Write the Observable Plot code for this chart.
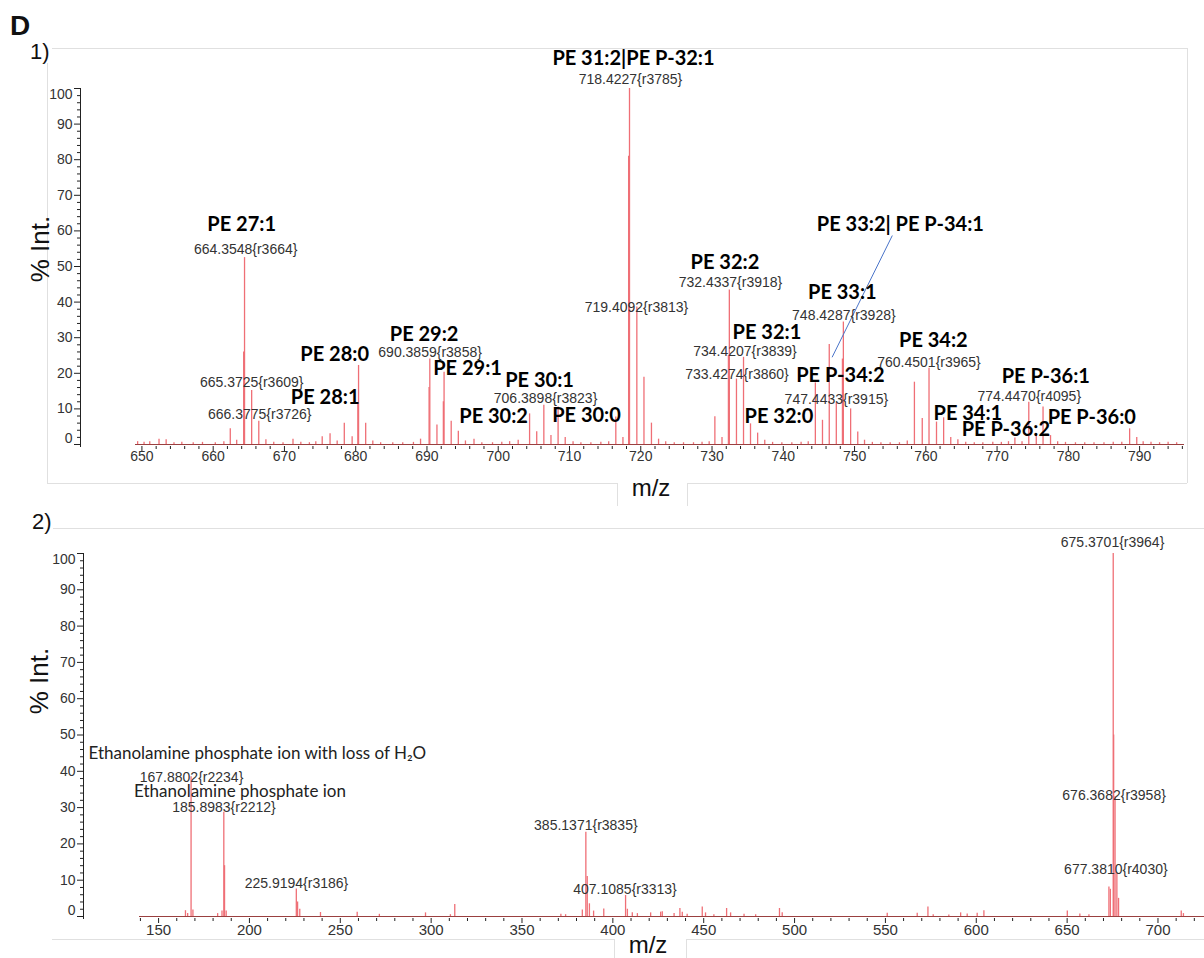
<!DOCTYPE html>
<html><head><meta charset="utf-8">
<script src="https://cdn.jsdelivr.net/npm/d3@7"></script>
<script src="https://cdn.jsdelivr.net/npm/@observablehq/plot@0.6"></script>
<style>
body{margin:0;background:#fff;}
#page{position:relative;width:1204px;height:958px;overflow:hidden;background:#fff;}
#p1,#p2{position:absolute;left:0;}
#p1{top:0;} #p2{top:528px;}
#overlay{position:absolute;left:0;top:0;pointer-events:none;}
svg{overflow:visible;}
</style></head><body>
<div id="page">
  <div id="p1"></div>
  <div id="p2"></div>
  <svg id="overlay" width="1204" height="958" font-family="Arial, 'Liberation Sans', sans-serif">
    <g stroke="#e0e0e0" stroke-width="1" fill="none">
      <line x1="52" y1="48.5" x2="1187" y2="48.5"/>
      <line x1="1187.5" y1="48" x2="1187.5" y2="483"/>
      <line x1="47.5" y1="63" x2="47.5" y2="483"/>
      <line x1="47" y1="483.5" x2="617" y2="483.5"/>
      <line x1="687" y1="483.5" x2="1187" y2="483.5"/>
      <line x1="617.5" y1="483" x2="617.5" y2="506"/>
      <line x1="687.5" y1="483" x2="687.5" y2="506"/>
      <line x1="53" y1="528.5" x2="1204" y2="528.5"/>
      <line x1="52" y1="939.5" x2="614" y2="939.5"/>
      <line x1="686" y1="939.5" x2="1204" y2="939.5"/>
      <line x1="614.5" y1="939" x2="614.5" y2="958"/>
      <line x1="686.5" y1="939" x2="686.5" y2="958"/>
    </g>
    <text x="10" y="35" font-size="28" font-weight="bold" fill="#111">D</text>
    <text x="30" y="59" font-size="22" fill="#111">1)</text>
    <text x="32" y="529" font-size="22" fill="#111">2)</text>
    <text x="651" y="496" font-size="24" text-anchor="middle" fill="#111">m/z</text>
    <text x="648" y="953" font-size="24" text-anchor="middle" fill="#111">m/z</text>
    <text transform="translate(49,249) rotate(-90)" font-size="26" text-anchor="middle" fill="#111">% Int.</text>
    <text transform="translate(48,681) rotate(-90)" font-size="26" text-anchor="middle" fill="#111">% Int.</text>
  </svg>
</div>
<script>
// ---------- Panel 1 spectrum (m/z, % intensity) ----------
const topMz = [649.4, 650.3, 651.1, 652.4, 653.4, 654.5, 655.6, 657.2, 658.5, 660.3, 661.5, 662.4, 663.3, 664.28, 664.4, 665.4, 666.4, 667.4, 668.5, 669.8, 671.2, 672.3, 673.5, 674.4, 675.3, 676.4, 677.4, 678.4, 679.5, 680.3, 680.4, 681.4, 682.4, 683.5, 685.2, 686.6, 688.1, 689.1, 690.3, 690.4, 691.4, 692.3, 692.4, 693.4, 694.4, 695.4, 696.6, 697.7, 699.2, 700.5, 701.6, 702.8, 704.4, 705.4, 706.4, 707.4, 708.4, 709.4, 710.5, 711.6, 713.0, 714.4, 715.5, 716.5, 717.5, 718.3, 718.42, 719.45, 720.45, 721.5, 722.5, 723.5, 724.7, 726.0, 727.4, 728.6, 729.6, 730.4, 731.4, 732.3, 732.43, 733.43, 734.42, 735.4, 736.4, 737.4, 738.5, 739.8, 741.2, 742.5, 743.5, 744.5, 745.5, 746.45, 747.44, 748.3, 748.43, 749.45, 750.45, 751.4, 752.5, 753.7, 755.0, 756.3, 757.4, 758.4, 759.5, 760.45, 761.5, 762.5, 763.5, 764.5, 765.6, 766.8, 768.0, 769.4, 770.6, 771.6, 772.5, 773.5, 774.45, 775.5, 776.45, 777.5, 778.5, 779.6, 781.0, 782.3, 783.6, 785.0, 786.3, 787.5, 788.6, 789.6, 790.5, 791.6, 792.8, 794.0, 795.2];
const topInt = [0.8, 0.6, 0.8, 1.5, 1.3, 0.5, 0.6, 0.5, 0.6, 0.5, 0.8, 4.4, 1.2, 26, 52.5, 15.2, 6.5, 1.3, 0.6, 0.5, 1.5, 0.6, 0.5, 0.8, 2.2, 3, 1, 6, 2.2, 11.5, 22.2, 6, 1, 0.5, 0.5, 0.5, 0.6, 1.5, 16, 24, 5.5, 12, 20.3, 6.5, 3.7, 1, 1.5, 0.5, 0.5, 0.6, 0.8, 1.2, 8.6, 3.6, 11, 2.5, 10.5, 2, 0.8, 0.5, 0.5, 0.6, 0.8, 7.7, 2, 81, 100, 38.6, 18.9, 6, 1.5, 0.8, 0.5, 0.5, 0.5, 0.6, 0.8, 7.8, 2, 25, 43.4, 18.4, 24.5, 5.8, 3.2, 1.2, 0.6, 0.5, 0.5, 0.6, 0.8, 17.3, 6.8, 28.1, 11.7, 24, 34.4, 10, 3.5, 1.2, 0.6, 0.5, 0.5, 0.5, 1, 17.5, 7.3, 21.4, 6.3, 7.5, 2, 1.3, 0.6, 0.5, 0.5, 0.6, 0.6, 0.8, 1.8, 0.8, 11.9, 3, 10.5, 2.5, 0.8, 0.6, 0.5, 0.5, 0.5, 0.5, 0.6, 0.6, 4.4, 2, 0.8, 0.6, 0.5, 0.6, 0.5];

// lipid names (bold) and where they sit (m/z, % Int.)
const topNames = ["PE 31:2|PE P-32:1", "PE 27:1", "PE 28:0", "PE 29:2", "PE 29:1", "PE 28:1", "PE 30:2", "PE 30:1", "PE 30:0", "PE 32:2", "PE 32:1", "PE 32:0", "PE P-34:2", "PE 33:1", "PE 33:2| PE P-34:1", "PE 34:2", "PE 34:1", "PE P-36:2", "PE P-36:1", "PE P-36:0"];
const topNameMz = [718.98, 664.0, 677.05, 689.6, 695.7, 675.71, 699.35, 705.8, 712.39, 731.81, 737.7, 739.39, 748.01, 748.29, 756.43, 761.06, 765.9, 771.23, 776.84, 783.29];
const topNameInt = [108.4, 61.8, 25.3, 30.9, 21.3, 13.2, 7.7, 18.0, 8.0, 51.0, 31.3, 7.7, 19.4, 42.6, 61.7, 29.1, 8.7, 4.1, 19.2, 7.6];

// peak m/z labels
const topPeakLabels = ["718.4227{r3785}", "664.3548{r3664}", "665.3725{r3609}", "666.3775{r3726}", "690.3859{r3858}", "706.3898{r3823}", "719.4092{r3813}", "732.4337{r3918}", "734.4207{r3839}", "733.4274{r3860}", "748.4287{r3928}", "747.4433{r3915}", "760.4501{r3965}", "774.4470{r4095}"];
const topPeakLabelMz = [718.56, 664.56, 665.4, 666.53, 690.44, 706.64, 719.4, 732.59, 734.62, 733.5, 748.5, 747.45, 760.45, 774.52];
const topPeakLabelInt = [102.5, 54.8, 17.4, 8.3, 25.8, 12.9, 38.6, 45.4, 26.1, 19.7, 36.1, 12.6, 22.9, 13.5];

// leader line from the "PE 33:2| PE P-34:1" name to its peak
const leaderMz = [746.85, 755.3];
const leaderInt = [24.5, 58.7];

// ---------- Panel 2 spectrum ----------
const botMz = [164.8, 166.0, 167.88, 168.9, 182.5, 184.9, 185.9, 186.3, 187.2, 225.8, 226.5, 227.7, 239.1, 259.3, 271.5, 296.9, 310.6, 313.0, 371.4, 374.0, 383.2, 385.14, 385.9, 387.1, 389.4, 395.0, 407.0, 408.0, 410.7, 413.5, 420.8, 426.3, 427.2, 433.7, 436.9, 438.2, 440.9, 449.2, 451.0, 455.6, 462.6, 464.8, 472.2, 478.6, 491.7, 493.2, 551.0, 567.5, 573.4, 576.3, 584.9, 591.4, 595.0, 600.5, 604.2, 650.1, 657.0, 662.0, 673.0, 673.8, 675.37, 675.6, 676.37, 677.38, 678.3, 712.8, 714.0];
const botInt = [1.6, 0.8, 38.5, 1.8, 0.8, 1.5, 28.7, 14, 1.5, 7.6, 4, 2, 1.1, 1.2, 0.6, 1, 0.5, 3.3, 0.6, 0.5, 1.8, 23.2, 11, 3.5, 1.5, 2.1, 5.8, 2, 1, 0.8, 1, 1.2, 1.3, 0.8, 2.2, 1.2, 0.6, 2.6, 1, 0.5, 2.2, 1, 0.6, 0.5, 2.2, 1, 0.9, 0.9, 2.6, 0.5, 0.4, 1, 0.7, 0.9, 1.6, 1.5, 0.7, 0.5, 8.1, 7.5, 100, 50, 33, 12, 5, 1.5, 0.8];

const botPeakLabels = ["167.8802{r2234}", "185.8983{r2212}", "225.9194{r3186}", "385.1371{r3835}", "407.1085{r3313}", "675.3701{r3964}", "676.3682{r3958}", "677.3810{r4030}"];
const botPeakLabelMz = [168.14, 186.0, 225.9, 385.14, 406.7, 675.0, 675.85, 676.83];
const botPeakLabelInt = [38.2, 30.1, 9.2, 25.0, 7.4, 102.9, 33.3, 12.9];

// ion names: first is left-aligned at its point, second centred
const botNames = ["Ethanolamine phosphate ion with loss of H\u2082O", "Ethanolamine phosphate ion"];
const botNameMz = [111.44, 194.8];
const botNameInt = [44.8, 34.3];

// axis ticks
const topXTicks = [650, 660, 670, 680, 690, 700, 710, 720, 730, 740, 750, 760, 770, 780, 790];
const botXTicks = [150, 200, 250, 300, 350, 400, 450, 500, 550, 600, 650, 700];
const yTicks = [0, 10, 20, 30, 40, 50, 60, 70, 80, 90, 100];

// ---------- build ----------
const RED = "#ef6f76";
const TICK = "#333";
const zip = (a, b, c) => a.map((v, i) => ({a: v, b: b[i], c: c ? c[i] : undefined}));

function yAxisMarks() {
  const minor = d3.range(0, 101, 2).filter(d => d % 10 !== 0);
  return [
    Plot.frame({anchor: "left", stroke: "#222"}),
    Plot.axisY({ticks: yTicks, tickSize: 6, tickPadding: 2, stroke: "#222", fill: TICK, fontSize: 14,
      tickFormat: d => (d === 0 || d === 100) ? "" : String(d), label: null}),
    Plot.axisY({ticks: minor, tickSize: 3, stroke: "#222", tickFormat: () => "", label: null}),
    Plot.text([0], {y: d => d, text: d => String(d), frameAnchor: "left", textAnchor: "end", dx: -8, dy: -6, fontSize: 14, fill: TICK}),
    Plot.text([100], {y: d => d, text: d => String(d), frameAnchor: "left", textAnchor: "end", dx: -8, dy: 6, fontSize: 14, fill: TICK})
  ];
}

const topPeaks = zip(topMz, topInt);
const topDomain = [649.1, 796.3];
const p1 = Plot.plot({
  width: 1204, height: 470,
  marginLeft: 80, marginRight: 20, marginTop: 88, marginBottom: 24,
  x: {domain: topDomain, range: [135, 1184], label: null},
  y: {domain: [0, 100], range: [444, 88], label: null},
  style: {background: "transparent", fontFamily: "Arial, 'Liberation Sans', sans-serif", fontSize: "14px", color: TICK, overflow: "visible"},
  marks: [
    ...yAxisMarks(),
    Plot.ruleY([0], {x1: topDomain[0], x2: topDomain[1], stroke: "#9a4040", strokeWidth: 1}),
    Plot.ruleX(topPeaks, {x: "a", y1: 0, y2: "b", stroke: RED, strokeWidth: 1.3}),
    Plot.axisX({ticks: topXTicks, tickSize: 5, tickPadding: 0, stroke: "#222", fill: TICK, fontSize: 14, label: null}),
    Plot.axisX({ticks: d3.range(650, 797, 2).filter(d => d % 10 !== 0), tickSize: 3, stroke: "#222", tickFormat: () => "", label: null}),
    Plot.link([0], {x1: () => leaderMz[0], y1: () => leaderInt[0], x2: () => leaderMz[1], y2: () => leaderInt[1], stroke: "#4a74c9", strokeWidth: 1}),
    Plot.text(zip(topPeakLabelMz, topPeakLabelInt, topPeakLabels), {x: "a", y: "b", text: "c", fontSize: 14, fill: "#333", fontFamily: "Arial, 'Liberation Sans', sans-serif"}),
    Plot.text(zip(topNameMz, topNameInt, topNames), {x: "a", y: "b", text: "c", fontSize: 20, fontWeight: "bold", fill: "#000", fontFamily: "Lato, 'Open Sans', sans-serif"})
  ]
});
document.getElementById("p1").appendChild(p1);

const botPeaks = zip(botMz, botInt);
const botDomain = [139.5, 725.6];
const botNameRows = zip(botNameMz, botNameInt, botNames);
const p2 = Plot.plot({
  width: 1204, height: 420,
  marginLeft: 83, marginRight: 0, marginTop: 25, marginBottom: 30,
  x: {domain: botDomain, range: [139, 1204], label: null},
  y: {domain: [0, 100], range: [388, 25], label: null},
  style: {background: "transparent", fontFamily: "Arial, 'Liberation Sans', sans-serif", fontSize: "14px", color: TICK, overflow: "visible"},
  marks: [
    ...yAxisMarks(),
    Plot.ruleY([0], {x1: botDomain[0], x2: botDomain[1], stroke: "#9a4040", strokeWidth: 1}),
    Plot.ruleX(botPeaks, {x: "a", y1: 0, y2: "b", stroke: RED, strokeWidth: 1.3}),
    Plot.axisX({ticks: botXTicks, tickSize: 5, tickPadding: 1, stroke: "#222", fill: TICK, fontSize: 15, label: null}),
    Plot.axisX({ticks: d3.range(140, 726, 10).filter(d => d % 50 !== 0), tickSize: 3, stroke: "#222", tickFormat: () => "", label: null}),
    Plot.text(zip(botPeakLabelMz, botPeakLabelInt, botPeakLabels), {x: "a", y: "b", text: "c", fontSize: 14, fill: "#333", fontFamily: "Arial, 'Liberation Sans', sans-serif"}),
    Plot.text(botNameRows.slice(0, 1), {x: "a", y: "b", text: "c", fontSize: 17, fill: "#222", fontFamily: "Lato, 'Open Sans', sans-serif", textAnchor: "start"}),
    Plot.text(botNameRows.slice(1), {x: "a", y: "b", text: "c", fontSize: 17, fill: "#222", fontFamily: "Lato, 'Open Sans', sans-serif", textAnchor: "middle"})
  ]
});
document.getElementById("p2").appendChild(p2);
</script>
</body></html>
